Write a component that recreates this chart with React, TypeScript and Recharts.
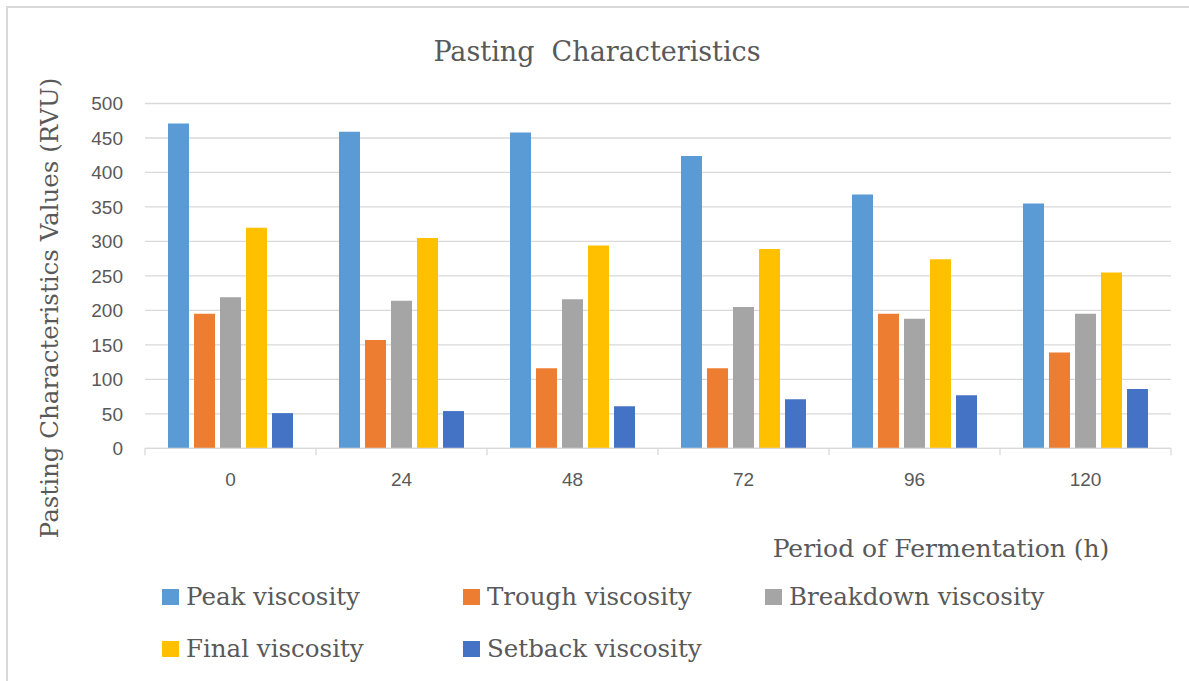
import { BarChart, Bar, XAxis, YAxis, CartesianGrid } from 'recharts';

const periods = ['0', '24', '48', '72', '96', '120'];
const peakViscosity = [471, 459, 458, 424, 368, 355];
const troughViscosity = [195, 157, 116, 116, 195, 139];
const breakdownViscosity = [219, 214, 216, 205, 188, 195];
const finalViscosity = [320, 305, 294, 289, 274, 255];
const setbackViscosity = [51, 54, 61, 71, 77, 86];
const yTicks = [0, 50, 100, 150, 200, 250, 300, 350, 400, 450, 500];

const SERIES = [
  { key: 'peak', name: 'Peak viscosity', color: '#5B9BD5', values: peakViscosity },
  { key: 'trough', name: 'Trough viscosity', color: '#ED7D31', values: troughViscosity },
  { key: 'breakdown', name: 'Breakdown viscosity', color: '#A5A5A5', values: breakdownViscosity },
  { key: 'final', name: 'Final viscosity', color: '#FFC000', values: finalViscosity },
  { key: 'setback', name: 'Setback viscosity', color: '#4472C4', values: setbackViscosity },
];

const data = periods.map((p, i) => {
  const row: Record<string, string | number> = { period: p };
  SERIES.forEach(s => { row[s.key] = s.values[i]; });
  return row;
});

const W = 1189;
const H = 681;
const PLOT_LEFT = 145;
const PLOT_RIGHT = 1171;
const BAND = (PLOT_RIGHT - PLOT_LEFT) / periods.length;
const TEXT = '#595959';
const GRID = '#d9d9d9';
// Times isn't available here, DejaVu Serif is the closest serif
const serif = { fontFamily: '"DejaVu Serif", serif' };
const sans = { fontFamily: '"Liberation Sans", Arial, sans-serif' };

// legend slots: [x of square, baseline y]
const LEGEND_POS = [
  [162, 605],
  [463, 605],
  [765, 605],
  [162, 657],
  [463, 657],
];

function CategoryTick(props: any) {
  const { x, y, payload, index } = props;
  const last = index === periods.length - 1;
  return (
    <g>
      <line x1={x - BAND / 2} x2={x - BAND / 2} y1={y} y2={y + 7} stroke={GRID} strokeWidth={1.3} />
      {last && <line x1={x + BAND / 2} x2={x + BAND / 2} y1={y} y2={y + 7} stroke={GRID} strokeWidth={1.3} />}
      <text x={x} y={y + 38} textAnchor="middle" fill={TEXT} fontSize={19} style={sans}>
        {payload.value}
      </text>
    </g>
  );
}

export default function App() {
  return (
    <div style={{ position: 'absolute', left: 0, top: 0, width: W, height: H, overflow: 'hidden', background: '#fff' }}>
      <div style={{ position: 'absolute', left: 6, top: 6, width: 1300, height: 800, borderTop: `2px solid ${GRID}`, borderLeft: `2px solid ${GRID}` }} />
      <div style={{ position: 'absolute', left: 0, top: 0 }}>
        <BarChart
          width={W}
          height={H}
          data={data}
          margin={{ top: 103.5, right: W - PLOT_RIGHT, left: 0, bottom: 192.7 }}
          barSize={21}
          barGap={5}
        >
          <CartesianGrid vertical={false} stroke={GRID} strokeWidth={1.3} />
          <XAxis
            dataKey="period"
            height={40}
            stroke={GRID}
            strokeWidth={1.3}
            tickLine={false}
            tickSize={0}
            tickMargin={0}
            tick={<CategoryTick />}
            interval={0}
          />
          <YAxis
            width={PLOT_LEFT}
            domain={[0, 500]}
            ticks={yTicks}
            axisLine={false}
            tickLine={false}
            tickSize={0}
            tickMargin={22}
            tick={{ fill: TEXT, fontSize: 19, fontFamily: '"Liberation Sans", Arial, sans-serif' }}
            interval={0}
          />
          {SERIES.map(s => (
            <Bar key={s.key} dataKey={s.key} name={s.name} fill={s.color} isAnimationActive={false} />
          ))}
        </BarChart>
      </div>
      <svg width={W} height={H} style={{ position: 'absolute', left: 0, top: 0, pointerEvents: 'none' }}>
        <text x={597} y={61} textAnchor="middle" fill={TEXT} fontSize={27} style={{ ...serif, whiteSpace: 'pre' }}>
          {'Pasting  Characteristics'}
        </text>
        <text transform="translate(58, 308) rotate(-90)" textAnchor="middle" fill={TEXT} fontSize={24.5} style={serif}>
          Pasting Characteristics Values (RVU)
        </text>
        <text x={941} y={557} textAnchor="middle" fill={TEXT} fontSize={25} style={serif}>
          Period of Fermentation (h)
        </text>
        {SERIES.map((s, i) => {
          const [lx, ly] = LEGEND_POS[i];
          return (
            <g key={s.key}>
              <rect x={lx} y={ly - 16} width={17} height={16} fill={s.color} />
              <text x={lx + 24} y={ly} fill={TEXT} fontSize={24.5} style={serif}>
                {s.name}
              </text>
            </g>
          );
        })}
      </svg>
    </div>
  );
}
